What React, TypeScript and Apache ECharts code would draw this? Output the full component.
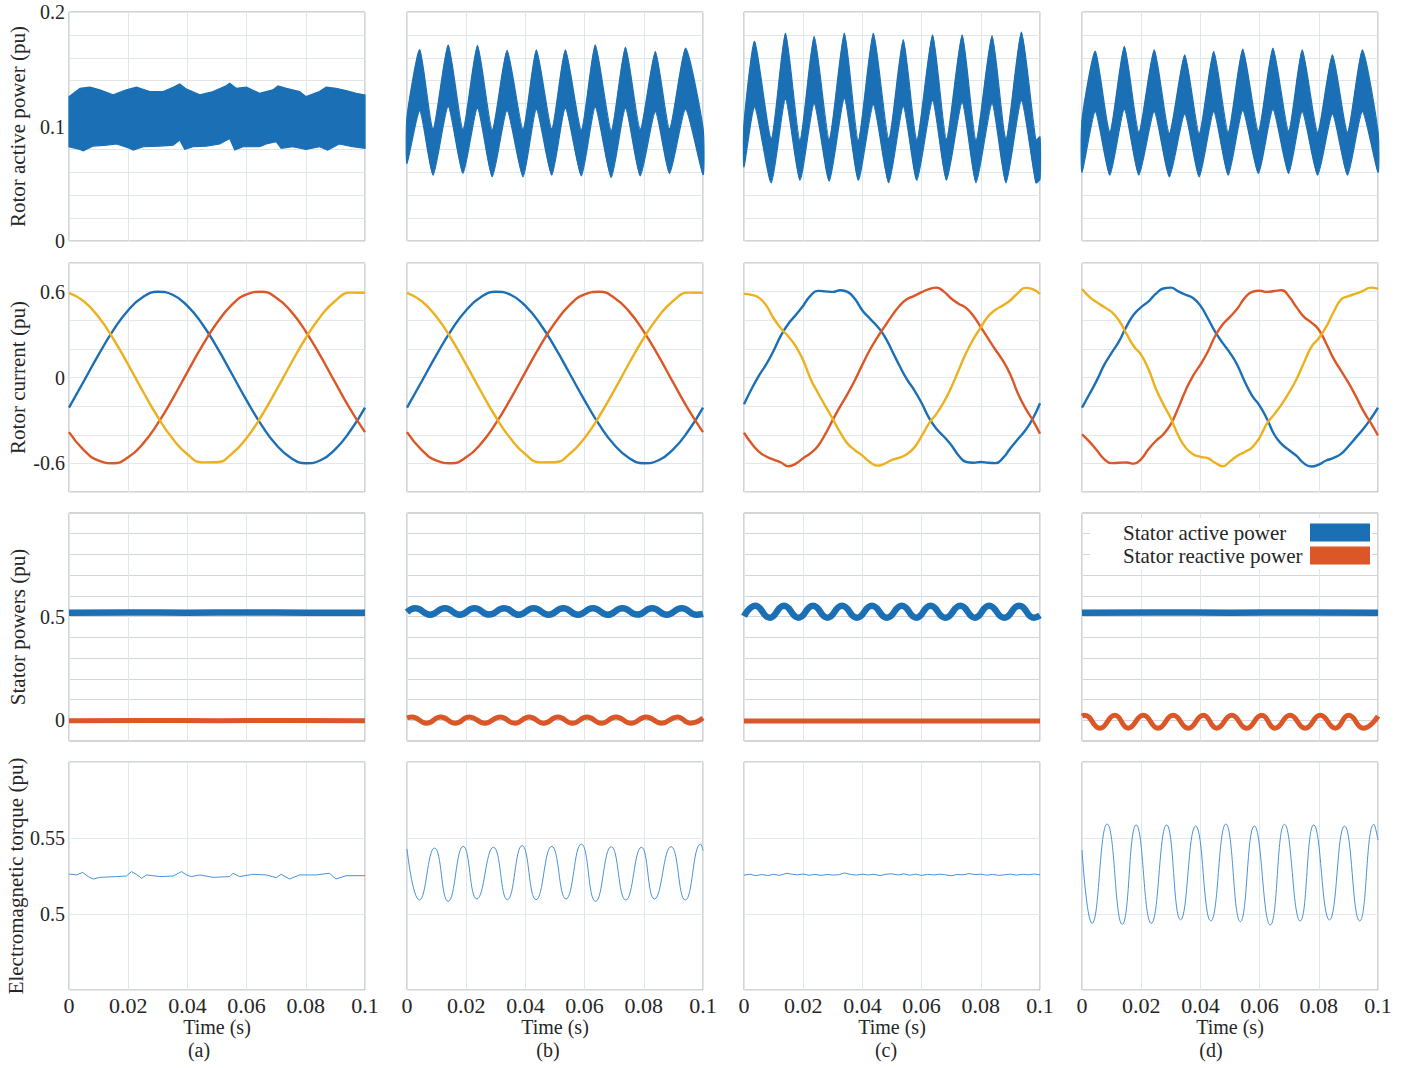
import React, { useEffect, useRef } from 'react';
import * as echarts from 'echarts';

// ---------- time bases (s) ----------
const tCoarse = [0, 0.005, 0.01, 0.015, 0.02, 0.025, 0.03, 0.035, 0.04, 0.045, 0.05, 0.055, 0.06, 0.065, 0.07, 0.075, 0.08, 0.085, 0.09, 0.095, 0.1];
const tFine = [0, 0.0025, 0.005, 0.0075, 0.01, 0.0125, 0.015, 0.0175, 0.02, 0.0225, 0.025, 0.0275, 0.03, 0.0325, 0.035, 0.0375, 0.04, 0.0425, 0.045, 0.0475, 0.05, 0.0525, 0.055, 0.0575, 0.06, 0.0625, 0.065, 0.0675, 0.07, 0.0725, 0.075, 0.0775, 0.08, 0.0825, 0.085, 0.0875, 0.09, 0.0925, 0.095, 0.0975, 0.1];

// ---------- tick labels ----------
const yTickLabelsRotorP = [0, 0.1, 0.2];
const yTickLabelsRotorI = [-0.6, 0, 0.6];
const yTickLabelsStator = [0, 0.5];
const yTickLabelsTorque = [0.5, 0.55];
const captions = ['(a)', '(b)', '(c)', '(d)'];

// ---------- row 1: rotor active power (envelope of the dense band) ----------
const rotorP_a_upper = [[0, 0.126], [0.0037, 0.1334], [0.0071, 0.1343], [0.0104, 0.132], [0.0149, 0.1276], [0.0194, 0.132], [0.0228, 0.1343], [0.0273, 0.1305], [0.0318, 0.1305], [0.0352, 0.1343], [0.0374, 0.1372], [0.0397, 0.1326], [0.0442, 0.1276], [0.0487, 0.1305], [0.0531, 0.1355], [0.0543, 0.1378], [0.0565, 0.1334], [0.0599, 0.1343], [0.0644, 0.129], [0.0689, 0.132], [0.0706, 0.1355], [0.0734, 0.1334], [0.0779, 0.1305], [0.0801, 0.1261], [0.0846, 0.1305], [0.0869, 0.1343], [0.0902, 0.1334], [0.0936, 0.1314], [0.097, 0.129], [0.1, 0.1276]];
const rotorP_a_lower = [[0, 0.0823], [0.0037, 0.08], [0.0048, 0.0788], [0.0082, 0.0829], [0.0127, 0.0838], [0.0161, 0.0847], [0.0206, 0.0809], [0.0217, 0.0794], [0.0251, 0.0823], [0.0307, 0.0829], [0.0352, 0.0838], [0.0374, 0.0882], [0.0391, 0.08], [0.0419, 0.0823], [0.0464, 0.0829], [0.0509, 0.0847], [0.0543, 0.0896], [0.056, 0.0794], [0.0588, 0.0823], [0.0644, 0.0823], [0.0666, 0.0847], [0.07, 0.0867], [0.0717, 0.0809], [0.0756, 0.0823], [0.0801, 0.08], [0.0846, 0.0823], [0.0874, 0.0794], [0.0913, 0.0847], [0.0958, 0.0823], [0.1, 0.0809]];
const rotorP_b_upper = [[0, 0.1086], [0.0043, 0.167], [0.0088, 0.0975], [0.0139, 0.1714], [0.0189, 0.0975], [0.0238, 0.1708], [0.0288, 0.097], [0.0338, 0.1664], [0.0392, 0.0975], [0.0437, 0.167], [0.0489, 0.098], [0.0535, 0.167], [0.0589, 0.097], [0.0636, 0.1714], [0.069, 0.0965], [0.0738, 0.1693], [0.0788, 0.0975], [0.0839, 0.1655], [0.0887, 0.098], [0.0941, 0.1685], [0.1, 0.099]];
const rotorP_b_lower = [[0, 0.0677], [0.0043, 0.114], [0.0088, 0.0575], [0.0139, 0.1175], [0.0189, 0.059], [0.0238, 0.116], [0.0288, 0.056], [0.0338, 0.114], [0.0392, 0.056], [0.0437, 0.115], [0.0489, 0.0575], [0.0535, 0.116], [0.0589, 0.0569], [0.0636, 0.117], [0.069, 0.0555], [0.0738, 0.116], [0.0788, 0.0569], [0.0839, 0.113], [0.0887, 0.059], [0.0941, 0.115], [0.1, 0.058]];
const rotorP_c_upper = [[0, 0.1028], [0.0036, 0.1743], [0.0092, 0.089], [0.014, 0.1816], [0.0189, 0.088], [0.0237, 0.1787], [0.0288, 0.089], [0.0339, 0.1816], [0.0386, 0.088], [0.0437, 0.1816], [0.0489, 0.089], [0.0538, 0.1758], [0.0584, 0.088], [0.0637, 0.1801], [0.0684, 0.089], [0.0737, 0.1801], [0.0784, 0.088], [0.0838, 0.1793], [0.0885, 0.089], [0.0937, 0.1825], [0.0986, 0.088], [0.1, 0.091]];
const rotorP_c_lower = [[0, 0.0648], [0.0036, 0.1175], [0.0092, 0.0508], [0.014, 0.1238], [0.0189, 0.0531], [0.0237, 0.12], [0.0288, 0.0523], [0.0339, 0.1245], [0.0386, 0.0531], [0.0437, 0.119], [0.0489, 0.0508], [0.0538, 0.1175], [0.0584, 0.0531], [0.0637, 0.1225], [0.0684, 0.0531], [0.0737, 0.121], [0.0784, 0.0508], [0.0838, 0.12], [0.0885, 0.0508], [0.0937, 0.1225], [0.0986, 0.0508], [0.1, 0.054]];
const rotorP_d_upper = [[0, 0.106], [0.0045, 0.1656], [0.0094, 0.095], [0.0143, 0.17], [0.0192, 0.095], [0.0244, 0.167], [0.0295, 0.094], [0.0347, 0.1626], [0.0396, 0.094], [0.0445, 0.1656], [0.0494, 0.095], [0.0543, 0.1676], [0.0596, 0.096], [0.0645, 0.1685], [0.0698, 0.096], [0.0744, 0.167], [0.0796, 0.095], [0.0846, 0.1626], [0.0897, 0.095], [0.0947, 0.167], [0.1, 0.096]];
const rotorP_d_lower = [[0, 0.06], [0.0045, 0.113], [0.0094, 0.0575], [0.0143, 0.115], [0.0192, 0.0575], [0.0244, 0.113], [0.0295, 0.056], [0.0347, 0.111], [0.0396, 0.056], [0.0445, 0.113], [0.0494, 0.0575], [0.0543, 0.114], [0.0596, 0.059], [0.0645, 0.115], [0.0698, 0.059], [0.0744, 0.113], [0.0796, 0.0575], [0.0846, 0.111], [0.0897, 0.0575], [0.0947, 0.113], [0.1, 0.06]];

// ---------- row 2: rotor three-phase currents ----------
const iA_ab = [-0.210, -0.026, 0.160, 0.331, 0.470, 0.562, 0.599, 0.578, 0.500, 0.374, 0.210, 0.026, -0.160, -0.331, -0.470, -0.562, -0.599, -0.578, -0.500, -0.374, -0.210];
const iB_ab = [-0.382, -0.507, -0.581, -0.599, -0.558, -0.462, -0.321, -0.149, 0.038, 0.221, 0.382, 0.507, 0.581, 0.599, 0.558, 0.462, 0.321, 0.149, -0.038, -0.221, -0.382];
const iC_ab = [0.592, 0.533, 0.422, 0.269, 0.090, -0.098, -0.276, -0.427, -0.536, -0.593, -0.592, -0.533, -0.422, -0.269, -0.090, 0.098, 0.276, 0.427, 0.536, 0.593, 0.592];
const iA_c = [-0.187, -0.082, 0.012, 0.092, 0.187, 0.294, 0.376, 0.436, 0.502, 0.572, 0.605, 0.602, 0.598, 0.610, 0.598, 0.548, 0.468, 0.412, 0.358, 0.288, 0.187, 0.084, -0.012, -0.088, -0.178, -0.282, -0.358, -0.412, -0.472, -0.545, -0.590, -0.596, -0.590, -0.596, -0.598, -0.562, -0.494, -0.432, -0.370, -0.290, -0.180];
const iB_c = [-0.386, -0.460, -0.518, -0.552, -0.574, -0.594, -0.620, -0.602, -0.564, -0.528, -0.478, -0.394, -0.296, -0.202, -0.114, -0.018, 0.090, 0.192, 0.278, 0.356, 0.432, 0.500, 0.546, 0.570, 0.596, 0.618, 0.628, 0.600, 0.552, 0.516, 0.486, 0.430, 0.352, 0.272, 0.192, 0.116, 0.020, -0.110, -0.212, -0.296, -0.392];
const iC_c = [0.584, 0.577, 0.558, 0.504, 0.414, 0.342, 0.286, 0.218, 0.120, -0.010, -0.108, -0.200, -0.290, -0.384, -0.462, -0.508, -0.546, -0.590, -0.616, -0.602, -0.576, -0.560, -0.536, -0.490, -0.410, -0.320, -0.254, -0.172, -0.070, 0.050, 0.170, 0.268, 0.350, 0.428, 0.474, 0.504, 0.540, 0.590, 0.626, 0.618, 0.584];
const iA_d = [-0.210, -0.117, -0.020, 0.088, 0.172, 0.252, 0.356, 0.440, 0.492, 0.532, 0.586, 0.622, 0.628, 0.602, 0.578, 0.556, 0.502, 0.414, 0.318, 0.242, 0.172, 0.086, -0.030, -0.128, -0.196, -0.290, -0.400, -0.466, -0.508, -0.548, -0.600, -0.622, -0.608, -0.580, -0.562, -0.534, -0.480, -0.420, -0.360, -0.290, -0.210];
const iB_d = [-0.397, -0.448, -0.508, -0.570, -0.598, -0.596, -0.594, -0.602, -0.570, -0.500, -0.442, -0.396, -0.326, -0.214, -0.090, 0.012, 0.090, 0.180, 0.290, 0.370, 0.424, 0.482, 0.556, 0.598, 0.606, 0.598, 0.604, 0.610, 0.564, 0.490, 0.424, 0.384, 0.334, 0.238, 0.132, 0.048, -0.036, -0.130, -0.232, -0.316, -0.405];
const iC_d = [0.619, 0.564, 0.526, 0.492, 0.458, 0.398, 0.306, 0.218, 0.158, 0.056, -0.080, -0.188, -0.284, -0.404, -0.490, -0.536, -0.554, -0.564, -0.596, -0.620, -0.586, -0.546, -0.520, -0.488, -0.420, -0.320, -0.256, -0.186, -0.104, -0.010, 0.104, 0.214, 0.274, 0.354, 0.458, 0.544, 0.568, 0.586, 0.606, 0.628, 0.619];

// ---------- row 3: stator powers ----------
const statorP_a = [[0, 0.519], [0.02, 0.52], [0.04, 0.519], [0.06, 0.52], [0.08, 0.519], [0.1, 0.519]];
const statorQ_a = [[0, -0.002], [0.025, -0.001], [0.05, -0.002], [0.075, -0.001], [0.1, -0.002]];
const statorP_b = [[0, 0.522], [0.0028, 0.541], [0.0078, 0.509], [0.0128, 0.541], [0.0178, 0.509], [0.0228, 0.54], [0.0278, 0.51], [0.0328, 0.541], [0.0378, 0.509], [0.0428, 0.541], [0.0478, 0.509], [0.0528, 0.54], [0.0578, 0.509], [0.0628, 0.541], [0.0678, 0.509], [0.0728, 0.541], [0.0778, 0.51], [0.0828, 0.54], [0.0878, 0.509], [0.0928, 0.541], [0.0978, 0.509], [0.1, 0.513]];
const statorQ_b = [[0, 0.012], [0.0017, 0.016], [0.0066, -0.014], [0.0114, 0.016], [0.0163, -0.014], [0.0211, 0.016], [0.0263, -0.014], [0.0315, 0.016], [0.0364, -0.014], [0.0413, 0.016], [0.0462, -0.014], [0.051, 0.016], [0.0559, -0.014], [0.0608, 0.016], [0.0657, -0.014], [0.0706, 0.016], [0.0757, -0.014], [0.0808, 0.016], [0.086, -0.014], [0.0913, 0.016], [0.0957, -0.014], [0.1, 0.011]];
const statorP_c = [[0, 0.502], [0.0038, 0.553], [0.0087, 0.495], [0.0135, 0.553], [0.0184, 0.495], [0.0233, 0.553], [0.0282, 0.495], [0.0331, 0.553], [0.0382, 0.495], [0.0432, 0.553], [0.0483, 0.495], [0.0533, 0.553], [0.0582, 0.495], [0.063, 0.553], [0.068, 0.495], [0.0731, 0.553], [0.078, 0.495], [0.0828, 0.553], [0.0879, 0.495], [0.093, 0.553], [0.098, 0.495], [0.1, 0.506]];
const statorQ_c = [[0, -0.004], [0.025, -0.003], [0.05, -0.004], [0.075, -0.003], [0.1, -0.004]];
const statorP_d = [[0, 0.519], [0.025, 0.52], [0.05, 0.519], [0.075, 0.52], [0.1, 0.519]];
const statorQ_d = [[0, 0.02], [0.0009, 0.024], [0.006, -0.038], [0.0111, 0.024], [0.0156, -0.038], [0.0207, 0.024], [0.0257, -0.038], [0.0308, 0.024], [0.0359, -0.038], [0.041, 0.024], [0.0455, -0.038], [0.0506, 0.024], [0.0556, -0.038], [0.0607, 0.024], [0.0652, -0.038], [0.0703, 0.024], [0.0754, -0.038], [0.0805, 0.024], [0.0856, -0.038], [0.0901, 0.024], [0.0951, -0.038], [0.1, 0.02]];

// ---------- row 4: electromagnetic torque ----------
const torque_a = [[0, 0.5263], [0.0026, 0.5257], [0.0046, 0.5274], [0.0065, 0.5246], [0.0082, 0.523], [0.0104, 0.5241], [0.0161, 0.5246], [0.0194, 0.525], [0.0211, 0.5279], [0.0228, 0.5261], [0.0245, 0.5235], [0.0262, 0.5257], [0.0307, 0.5246], [0.0352, 0.525], [0.038, 0.5279], [0.0397, 0.5257], [0.0413, 0.5246], [0.0442, 0.5257], [0.0487, 0.5241], [0.0543, 0.5246], [0.0554, 0.5268], [0.0576, 0.5246], [0.0621, 0.5261], [0.0666, 0.5257], [0.07, 0.5239], [0.0717, 0.5261], [0.0745, 0.523], [0.0779, 0.5257], [0.0835, 0.5257], [0.088, 0.5268], [0.0902, 0.523], [0.0936, 0.5252], [0.1, 0.5252]];
const torque_b = [[0, 0.5428], [0.0042, 0.5092], [0.0093, 0.5434], [0.0139, 0.5083], [0.019, 0.5445], [0.0236, 0.5099], [0.0292, 0.5439], [0.0339, 0.5094], [0.0389, 0.545], [0.0436, 0.5094], [0.0489, 0.5445], [0.0537, 0.5099], [0.0589, 0.546], [0.0637, 0.5083], [0.069, 0.5443], [0.0739, 0.5092], [0.0792, 0.5439], [0.0836, 0.5099], [0.0892, 0.5443], [0.094, 0.5092], [0.0992, 0.546], [0.1, 0.5417]];
const torque_c = [[0, 0.5255], [0.002, 0.5262], [0.004, 0.5252], [0.006, 0.526], [0.008, 0.5253], [0.01, 0.5261], [0.012, 0.5254], [0.0145, 0.5268], [0.016, 0.5262], [0.018, 0.5258], [0.02, 0.5263], [0.022, 0.5255], [0.024, 0.5261], [0.026, 0.5254], [0.028, 0.526], [0.03, 0.5256], [0.032, 0.5258], [0.034, 0.527], [0.036, 0.526], [0.038, 0.5256], [0.04, 0.5262], [0.042, 0.5257], [0.044, 0.5261], [0.046, 0.5252], [0.048, 0.5262], [0.05, 0.5264], [0.052, 0.5257], [0.054, 0.5264], [0.056, 0.5255], [0.058, 0.5262], [0.06, 0.5254], [0.062, 0.5261], [0.064, 0.5257], [0.066, 0.5262], [0.068, 0.5258], [0.07, 0.5252], [0.072, 0.526], [0.074, 0.5258], [0.076, 0.5266], [0.078, 0.5259], [0.08, 0.5262], [0.082, 0.5255], [0.084, 0.5261], [0.086, 0.5254], [0.088, 0.5258], [0.09, 0.5262], [0.092, 0.5256], [0.094, 0.5261], [0.096, 0.5258], [0.098, 0.5263], [0.1, 0.5258]];
const torque_d = [[0, 0.5421], [0.0034, 0.4939], [0.0085, 0.5592], [0.0136, 0.4932], [0.0183, 0.5586], [0.0234, 0.4939], [0.0286, 0.5586], [0.0333, 0.4961], [0.0384, 0.5579], [0.0435, 0.4954], [0.0486, 0.5592], [0.0535, 0.495], [0.0582, 0.5579], [0.0636, 0.4928], [0.0684, 0.559], [0.0737, 0.4954], [0.0783, 0.5586], [0.0836, 0.4961], [0.0887, 0.5579], [0.0938, 0.4954], [0.0986, 0.559], [0.1, 0.5487]];

// ---------- styling / layout ----------
const FONT = '"Liberation Serif", "Times New Roman", Times, serif';
const TEXT = '#262626';
const BLUE = '#1b6fb5';
const RED = '#dc5727';
const YELLOW = '#edb120';
const TORQUE = '#4a92d6';

const colLeft = [69, 407, 744, 1082];
const rowTop = [12, 263, 513, 762];
const rowH = [229, 229, 228, 228];
const panelW = 296;
const captionX = [199, 548, 886, 1211];

const rows = [
  { min: 0, max: 0.2, interval: 0.02, labels: yTickLabelsRotorP, name: 'Rotor active power (pu)', split: '#e2e5e8' },
  { min: -0.8, max: 0.8, interval: 0.2, labels: yTickLabelsRotorI, name: 'Rotor current (pu)', split: '#e3e7ea' },
  { min: -0.1, max: 1.0, interval: 0.1, labels: yTickLabelsStator, name: 'Stator powers (pu)', split: '#d2d6da' },
  { min: 0.45, max: 0.6, interval: 0.05, labels: yTickLabelsTorque, name: 'Electromagnetic torque (pu)', split: '#e3e8ec' },
];

const zip = (t: number[], v: number[]) => t.map((x, i) => [x, v[i]]);
const r3 = (v: number) => Math.round(v * 1000) / 1000;

function band(g: number, upper: number[][], lower: number[][], color: string, smooth: number) {
  return {
    type: 'custom',
    name: 'Rotor active power',
    xAxisIndex: g,
    yAxisIndex: g,
    silent: true,
    z: 2,
    data: [[upper[0][0], upper[0][1]]],
    renderItem: (_p: any, api: any) => {
      const pts = upper.map((p) => api.coord(p)).concat(lower.slice().reverse().map((p) => api.coord(p)));
      return { type: 'polygon', shape: { points: pts, smooth }, style: { fill: color, stroke: color, lineWidth: 1.2 } };
    },
  };
}

function line(g: number, data: number[][], color: string, width: number, name: string, smooth: any) {
  return {
    type: 'line',
    name,
    xAxisIndex: g,
    yAxisIndex: g,
    data,
    symbol: 'none',
    showSymbol: false,
    smooth,
    silent: true,
    z: 3,
    lineStyle: { color, width },
    itemStyle: { color },
  };
}

function buildOption() {
  const grid: any[] = [];
  const xAxis: any[] = [];
  const yAxis: any[] = [];
  const series: any[] = [];
  for (let r = 0; r < 4; r++) {
    for (let c = 0; c < 4; c++) {
      const g = r * 4 + c;
      grid.push({ left: colLeft[c], top: rowTop[r], width: panelW, height: rowH[r], show: true, borderColor: '#a9a9a9', borderWidth: 1, backgroundColor: 'transparent', containLabel: false });
      xAxis.push({
        type: 'value', gridIndex: g, min: 0, max: 0.1, interval: 0.02,
        axisLine: { show: false }, axisTick: { show: false },
        splitLine: { show: true, lineStyle: { color: '#dde7ee', width: 1 } },
        axisLabel: { show: r === 3, margin: 4, fontFamily: FONT, fontSize: 22, color: TEXT, formatter: (v: number) => String(r3(v)) },
        name: r === 3 ? 'Time (s)' : '', nameLocation: 'middle', nameGap: 22,
        nameTextStyle: { fontFamily: FONT, fontSize: 20, color: TEXT, lineHeight: 20 },
      });
      const row = rows[r];
      yAxis.push({
        type: 'value', gridIndex: g, min: row.min, max: row.max, interval: row.interval,
        axisLine: { show: false }, axisTick: { show: false },
        splitLine: { show: true, lineStyle: { color: row.split, width: 1 } },
        axisLabel: {
          show: c === 0, margin: 4, fontFamily: FONT, fontSize: 20, color: TEXT,
          formatter: (v: number) => (row.labels.some((l) => Math.abs(l - r3(v)) < 1e-9) ? String(r3(v)) : ''),
        },
        name: c === 0 ? row.name : '', nameLocation: 'middle', nameGap: 41,
        nameTextStyle: { fontFamily: FONT, fontSize: 21, color: TEXT },
      });
    }
  }

  // row 1
  const bands = [[rotorP_a_upper, rotorP_a_lower], [rotorP_b_upper, rotorP_b_lower], [rotorP_c_upper, rotorP_c_lower], [rotorP_d_upper, rotorP_d_lower]];
  bands.forEach(([u, l], c) => series.push(band(c, u, l, BLUE, c === 0 ? 0 : 0.2)));

  // row 2
  const currents: [number[], number[][]][] = [
    [tCoarse, [iA_ab, iB_ab, iC_ab]],
    [tCoarse, [iA_ab, iB_ab, iC_ab]],
    [tFine, [iA_c, iB_c, iC_c]],
    [tFine, [iA_d, iB_d, iC_d]],
  ];
  const phaseColors = [BLUE, RED, YELLOW];
  const phaseNames = ['Rotor current a', 'Rotor current b', 'Rotor current c'];
  currents.forEach(([t, vs], c) => {
    vs.forEach((v, k) => series.push(line(4 + c, zip(t, v), phaseColors[k], 2.4, phaseNames[k], 0.5)));
  });

  // row 3
  const stator = [[statorP_a, statorQ_a], [statorP_b, statorQ_b], [statorP_c, statorQ_c], [statorP_d, statorQ_d]];
  stator.forEach(([p, q], c) => {
    series.push(line(8 + c, q, RED, 5, 'Stator reactive power', 0.5));
    series.push(line(8 + c, p, BLUE, 6.5, 'Stator active power', 0.5));
  });

  // row 4
  const torques = [torque_a, torque_b, torque_c, torque_d];
  torques.forEach((d, c) => series.push(line(12 + c, d, TORQUE, 1, 'Electromagnetic torque', c === 1 || c === 3 ? 0.5 : false)));

  const graphic = captions.map((txt, c) => ({
    type: 'text', x: captionX[c], y: 1050, silent: true,
    style: { text: txt, fill: TEXT, font: `20px ${FONT}`, align: 'center', verticalAlign: 'middle', textAlign: 'center', textVerticalAlign: 'middle' },
  }));

  return {
    animation: false,
    backgroundColor: '#ffffff',
    grid, xAxis, yAxis, series, graphic,
    legend: {
      data: [
        { name: 'Stator active power', icon: 'rect', itemStyle: { color: BLUE } },
        { name: 'Stator reactive power', icon: 'rect', itemStyle: { color: RED } },
      ],
      orient: 'vertical', align: 'right', right: 36, top: 518,
      itemWidth: 60, itemHeight: 18, itemGap: 2,
      backgroundColor: '#ffffff', padding: [4, 2, 3, 33], selectedMode: false,
      formatter: '{n|{name}}',
      textStyle: {
        fontFamily: FONT, fontSize: 21, color: TEXT,
        rich: { n: { width: 182, align: 'left', fontFamily: FONT, fontSize: 21, color: TEXT } },
      },
    },
  };
}

export default function App() {
  const ref = useRef<HTMLDivElement>(null);
  useEffect(() => {
    document.body.style.margin = '0';
    if (!ref.current) return;
    const chart = echarts.init(ref.current, undefined, { renderer: 'svg' });
    chart.setOption(buildOption() as any);
    return () => chart.dispose();
  }, []);
  return <div ref={ref} style={{ width: 1408, height: 1068 }} />;
}
